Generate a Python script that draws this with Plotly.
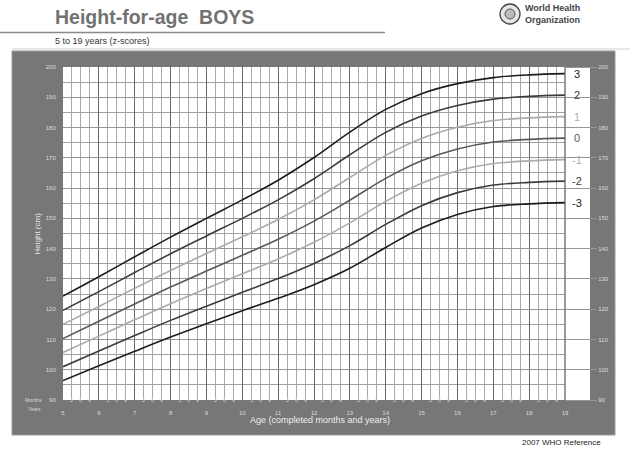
import plotly.graph_objects as go

# ---------------- data ----------------
AGES = [5, 6, 7, 8, 9, 10, 11, 12, 13, 14, 15, 16, 17, 18, 19]
SD_NEG3 = [96.4, 101.3, 106.1, 110.8, 115.2, 119.5, 123.6, 128.1, 133.5, 140.4, 146.8, 151.3, 153.9, 154.8, 155.2]
SD_NEG2 = [101.0, 106.2, 111.3, 116.3, 121.0, 125.6, 130.1, 135.1, 141.0, 148.0, 154.2, 158.5, 161.0, 161.9, 162.3]
SD_NEG1 = [105.7, 111.1, 116.5, 121.8, 126.8, 131.7, 136.6, 142.1, 148.5, 155.6, 161.6, 165.7, 168.1, 169.0, 169.4]
SD_0 = [110.3, 116.0, 121.7, 127.3, 132.6, 137.8, 143.1, 149.1, 156.0, 163.2, 169.0, 172.9, 175.2, 176.1, 176.5]
SD_POS1 = [115.0, 120.9, 126.9, 132.8, 138.4, 143.9, 149.6, 156.1, 163.5, 170.8, 176.4, 180.1, 182.3, 183.2, 183.6]
SD_POS2 = [119.6, 125.8, 132.1, 138.3, 144.2, 150.0, 156.1, 163.1, 171.0, 178.4, 183.8, 187.3, 189.4, 190.3, 190.7]
SD_POS3 = [124.3, 130.7, 137.3, 143.8, 150.0, 156.1, 162.6, 170.1, 178.5, 186.0, 191.2, 194.5, 196.5, 197.4, 197.8]

SERIES_NAMES = ["3", "2", "1", "0", "-1", "-2", "-3"]
YEAR_TICKS = list(range(5, 20))
YEAR_LABELS = [str(a) for a in YEAR_TICKS]
MONTH_LABELS = ["3", "6", "9"]
MONTH_FRACTIONS = [0.25, 0.5, 0.75]
Y_TICKS = list(range(90, 201, 10))

# ---------------- styling ----------------
PANEL = "#777777"
LABEL_LIGHT = "#dcdcdc"
colors = {"3": "#1c1c1c", "2": "#3c3c3c", "1": "#ababab", "0": "#595959",
          "-1": "#ababab", "-2": "#3c3c3c", "-3": "#1c1c1c"}
series = {"3": SD_POS3, "2": SD_POS2, "1": SD_POS1, "0": SD_0,
          "-1": SD_NEG1, "-2": SD_NEG2, "-3": SD_NEG3}

W, H = 630, 451
L, T = 63, 67
PW, PH = 502, 333
R, B = W - L - PW, H - T - PH


def px(x):
    return (x - L) / PW


def py(y):
    return (T + PH - y) / PH


fig = go.Figure()
for name in SERIES_NAMES:
    fig.add_trace(go.Scatter(x=AGES, y=series[name], mode="lines",
                             line=dict(color=colors[name], width=1.6, shape="spline", smoothing=1.0),
                             showlegend=False, hoverinfo="skip"))
# invisible trace for right axis
fig.add_trace(go.Scatter(x=[AGES[0]], y=[Y_TICKS[0]], yaxis="y2", mode="markers",
                         marker=dict(opacity=0), showlegend=False, hoverinfo="skip"))

shapes = [
    dict(type="rect", xref="paper", yref="paper", x0=px(12), x1=px(615), y0=py(435), y1=py(51),
         fillcolor=PANEL, line=dict(color="#9a9a9a", width=1), layer="below"),
    dict(type="rect", xref="paper", yref="paper", x0=0, x1=px(590), y0=0, y1=1,
         fillcolor="white", line=dict(width=0), layer="below"),
    dict(type="line", xref="paper", yref="paper", x0=px(0), x1=px(385), y0=py(32.5), y1=py(32.5),
         line=dict(color="#8a8a8a", width=1.5)),
    dict(type="line", xref="paper", yref="paper", x0=px(12), x1=px(630), y0=py(49), y1=py(49),
         line=dict(color="#cfcfcf", width=1)),
    dict(type="circle", xref="paper", yref="paper", x0=px(500), x1=px(520), y0=py(24), y1=py(4),
         fillcolor="#e6e6e6", line=dict(color="#444", width=1.3)),
    dict(type="circle", xref="paper", yref="paper", x0=px(505), x1=px(515), y0=py(19), y1=py(9),
         fillcolor="#bbbbbb", line=dict(color="#555", width=1)),
    dict(type="line", xref="paper", yref="paper", x0=1, x1=1, y0=0, y1=1,
         line=dict(color="#555", width=1.2)),
]

annotations = []
for name in SERIES_NAMES:
    annotations.append(dict(x=px(577), xref="paper", y=series[name][-1], yref="y",
                            text=name, showarrow=False, xanchor="center", yanchor="middle",
                            font=dict(size=11, color=colors[name], family="Liberation Sans")))
for yr in YEAR_TICKS[:-1]:
    for frac, lab in zip(MONTH_FRACTIONS, MONTH_LABELS):
        annotations.append(dict(x=yr + frac, xref="x", y=py(405), yref="paper", text=lab,
                                showarrow=False, font=dict(size=5, color=LABEL_LIGHT, family="Liberation Sans")))

annotations += [
    dict(x=px(53), y=py(17), xref="paper", yref="paper", xanchor="left", yanchor="middle",
         text="<b>Height-for-age  BOYS</b>", showarrow=False,
         font=dict(size=19.5, color="#727272", family="Liberation Sans")),
    dict(x=px(53), y=py(40.5), xref="paper", yref="paper", xanchor="left", yanchor="middle",
         text="5 to 19 years (z-scores)", showarrow=False,
         font=dict(size=9, color="#333", family="Liberation Sans")),
    dict(x=px(523), y=py(14), xref="paper", yref="paper", xanchor="left", yanchor="middle",
         text="<b>World Health</b><br><b>Organization</b>", showarrow=False, align="left",
         font=dict(size=9, color="#444", family="Liberation Sans")),
    dict(x=px(603), y=py(442), xref="paper", yref="paper", xanchor="right", yanchor="middle",
         text="2007 WHO Reference", showarrow=False,
         font=dict(size=8, color="#222", family="Liberation Sans")),
    dict(x=px(30), y=py(234), xref="paper", yref="paper", textangle=-90,
         text="Height (cm)", showarrow=False,
         font=dict(size=8, color="#e8e8e8", family="Liberation Sans")),
    dict(x=px(320), y=py(427), xref="paper", yref="paper",
         text="Age (completed months and years)", showarrow=False,
         font=dict(size=9, color="#eeeeee", family="Liberation Sans")),
    dict(x=px(44), y=py(405), xref="paper", yref="paper", xanchor="right",
         text="Months", showarrow=False, font=dict(size=5, color=LABEL_LIGHT, family="Liberation Sans")),
    dict(x=px(43), y=py(414), xref="paper", yref="paper", xanchor="right",
         text="Years", showarrow=False, font=dict(size=5, color=LABEL_LIGHT, family="Liberation Sans")),
]

fig.update_layout(
    width=W, height=H,
    margin=dict(l=L, r=R, t=T, b=B, pad=0),
    paper_bgcolor="white",
    plot_bgcolor="rgba(0,0,0,0)",
    shapes=shapes,
    annotations=annotations,
    xaxis=dict(range=[5, 19], tickmode="array", tickvals=YEAR_TICKS, ticktext=YEAR_LABELS,
               showgrid=True, gridcolor="#666666", gridwidth=1.2,
               minor=dict(dtick=0.25, tick0=5, showgrid=True, gridcolor="#a8a8a8", gridwidth=1.2),
               ticks="outside", ticklen=7, tickcolor=PANEL,
               tickfont=dict(size=6, color=LABEL_LIGHT, family="Liberation Sans"),
               zeroline=False, showline=False, fixedrange=True),
    yaxis=dict(range=[90, 200], tickmode="array", tickvals=Y_TICKS,
               showgrid=True, gridcolor="#959595", gridwidth=1.2,
               minor=dict(dtick=5, tick0=90, showgrid=True, gridcolor="#a0a0a0", gridwidth=1.2),
               ticks="outside", ticklen=5, tickcolor=PANEL,
               tickfont=dict(size=6, color=LABEL_LIGHT, family="Liberation Sans"),
               zeroline=False, showline=False, fixedrange=True),
    yaxis2=dict(range=[90, 200], overlaying="y", side="right", tickmode="array", tickvals=Y_TICKS,
                showgrid=False, ticks="outside", ticklen=31, tickcolor="#959595", tickwidth=1.2,
                tickfont=dict(size=6, color=LABEL_LIGHT, family="Liberation Sans"),
                zeroline=False, showline=False, fixedrange=True),
)

fig.write_html("out.html", config={"displayModeBar": False},
               post_script="document.body.style.margin='0px';")
